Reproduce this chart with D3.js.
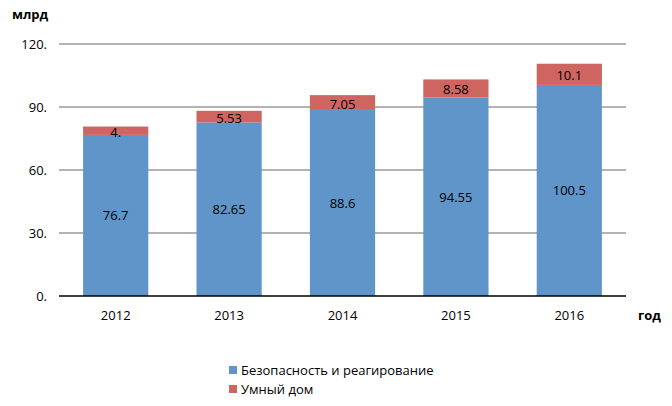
<!DOCTYPE html>
<html><head><meta charset="utf-8">
<script src="https://cdn.jsdelivr.net/npm/d3@7"></script>
<style>body{margin:0;background:#fff}svg{display:block}text{font-family:"Open Sans","Noto Sans",sans-serif}</style>
</head><body><svg id="c" width="672" height="406"></svg>
<script>
const years = ["2012","2013","2014","2015","2016"];
const security = [76.7, 82.65, 88.6, 94.55, 100.5];
const smartHome = [4, 5.53, 7.05, 8.58, 10.1];
const securityLabels = ["76.7","82.65","88.6","94.55","100.5"];
const smartLabels = ["4.","5.53","7.05","8.58","10.1"];
const yTicks = [0, 30, 60, 90, 120];
const yTickLabels = ["0.","30.","60.","90.","120."];
const seriesNames = ["Безопасность и реагирование","Умный дом"];
const colors = ["#5f95c8","#cf6560"];

const svg = d3.select("#c");
const x = d3.scaleBand().domain(years).range([59, 626]).paddingInner(0.425).paddingOuter(0.2125);
const y = d3.scaleLinear().domain([0, 120]).range([296, 44]);

// grid
svg.append("g").selectAll("line").data(yTicks.slice(1)).join("line")
  .attr("x1", 59).attr("x2", 626).attr("y1", d => y(d)).attr("y2", d => y(d))
  .attr("stroke", "#b3b3b3").attr("stroke-width", 2);

// y labels
svg.append("g").selectAll("text").data(yTicks).join("text")
  .attr("x", 47).attr("y", d => y(d) + 5).attr("text-anchor", "end")
  .attr("font-size", 13).attr("fill", "#000").text((d,i) => yTickLabels[i]);

// bars
const g = svg.append("g");
years.forEach((yr, i) => {
  const s = security[i], h = smartHome[i];
  g.append("rect").attr("x", x(yr)).attr("width", x.bandwidth())
    .attr("y", y(s)).attr("height", y(0) - y(s)).attr("fill", colors[0]);
  g.append("rect").attr("x", x(yr)).attr("width", x.bandwidth())
    .attr("y", y(s + h)).attr("height", y(s) - y(s + h)).attr("fill", colors[1]);
  g.append("text").attr("x", x(yr) + x.bandwidth()/2).attr("y", y(s/2) + 5)
    .attr("text-anchor", "middle").attr("font-size", 13).text(securityLabels[i]);
  g.append("text").attr("x", x(yr) + x.bandwidth()/2).attr("y", y(s + h/2) + 6)
    .attr("text-anchor", "middle").attr("font-size", 13).text(smartLabels[i]);
});

// axis line
svg.append("line").attr("x1", 59).attr("x2", 626).attr("y1", y(0)).attr("y2", y(0))
  .attr("stroke", "#000").attr("stroke-width", 1.5);

// x labels
svg.append("g").selectAll("text").data(years).join("text")
  .attr("x", d => x(d) + x.bandwidth()/2).attr("y", 320).attr("text-anchor", "middle")
  .attr("font-size", 13).text(d => d);

svg.append("text").attr("x", 12).attr("y", 19).attr("font-size", 13).attr("font-weight", "bold").text("млрд");
svg.append("text").attr("x", 638).attr("y", 320).attr("font-size", 13).attr("font-weight", "bold").text("год");

// legend
const lg = svg.append("g");
seriesNames.forEach((n, i) => {
  lg.append("rect").attr("x", 229).attr("y", 366 + i*19).attr("width", 8).attr("height", 8).attr("fill", colors[i]);
  lg.append("text").attr("x", 241).attr("y", 375 + i*19).attr("font-size", 13).text(n);
});
</script></body></html>
